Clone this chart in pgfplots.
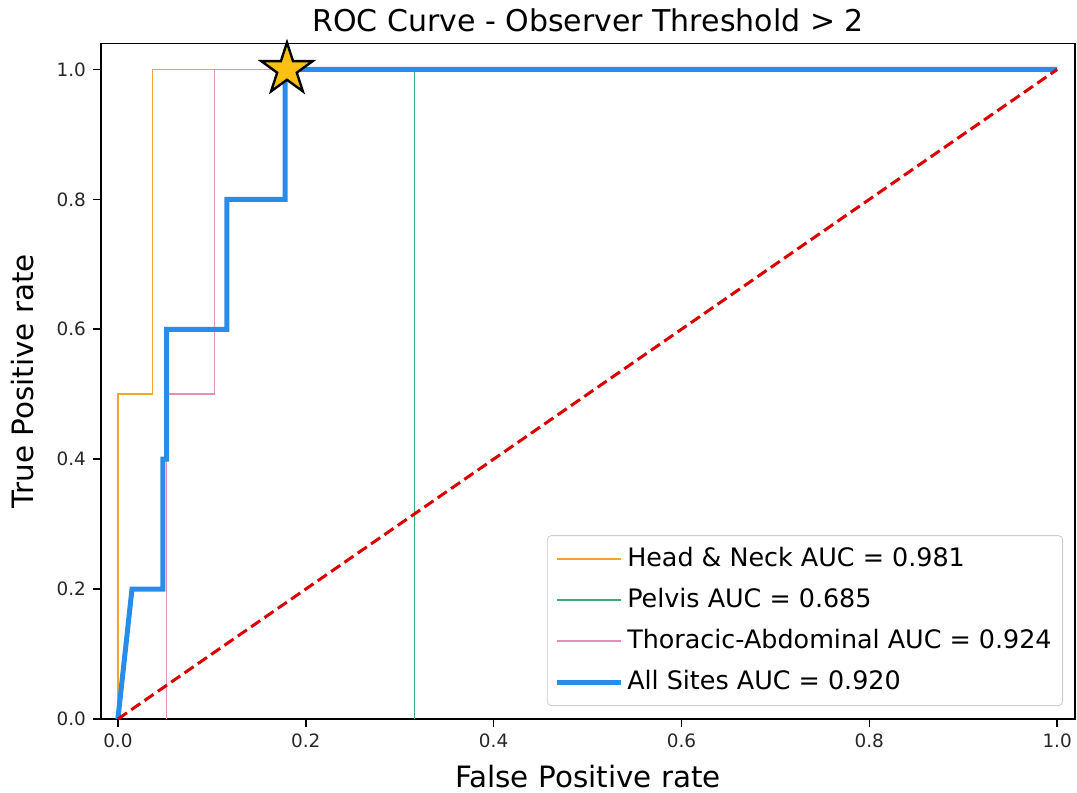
\documentclass[border=0pt]{standalone}
\usepackage{fontspec}
\setmainfont{DejaVu Sans}
\usepackage{pgfplots}
\pgfplotsset{compat=1.18}
\pgfplotsset{every axis title shift=0pt}
\definecolor{hnorange}{RGB}{240,165,45}
\definecolor{pgreen}{RGB}{60,170,120}
\definecolor{tpink}{RGB}{232,140,188}
\definecolor{allblue}{RGB}{40,140,235}
\definecolor{stargold}{RGB}{252,192,20}
\pgfdeclareplotmark{fivestar}{%
  \pgfpathmoveto{\pgfqpointpolar{90}{\pgfplotmarksize}}%
  \pgfpathlineto{\pgfqpointpolar{126}{0.382\pgfplotmarksize}}%
  \pgfpathlineto{\pgfqpointpolar{162}{\pgfplotmarksize}}%
  \pgfpathlineto{\pgfqpointpolar{198}{0.382\pgfplotmarksize}}%
  \pgfpathlineto{\pgfqpointpolar{234}{\pgfplotmarksize}}%
  \pgfpathlineto{\pgfqpointpolar{270}{0.382\pgfplotmarksize}}%
  \pgfpathlineto{\pgfqpointpolar{306}{\pgfplotmarksize}}%
  \pgfpathlineto{\pgfqpointpolar{342}{0.382\pgfplotmarksize}}%
  \pgfpathlineto{\pgfqpointpolar{18}{\pgfplotmarksize}}%
  \pgfpathlineto{\pgfqpointpolar{54}{0.382\pgfplotmarksize}}%
  \pgfpathclose
  \pgfusepathqfillstroke}
\begin{document}
\begin{tikzpicture}
\begin{axis}[
  scale only axis,
  width=487pt, height=337.75pt,
  xmin=-0.018, xmax=1.019, ymin=0, ymax=1.04,
  xtick={0,0.2,0.4,0.6,0.8,1.0},
  ytick={0,0.2,0.4,0.6,0.8,1.0},
  xticklabels={0.0,0.2,0.4,0.6,0.8,1.0},
  yticklabels={0.0,0.2,0.4,0.6,0.8,1.0},
  tick align=outside,
  major tick length=4pt,
  tick style={black, line width=0.8pt},
  xtick pos=bottom, ytick pos=left,
  axis line style={black, line width=0.9pt},
  ticklabel style={font=\fontsize{9.2pt}{11pt}\selectfont, text=black!85},
  /pgf/number format/assume math mode=true,
  title={ROC Curve - Observer Threshold > 2},
  title style={font=\fontsize{15pt}{18pt}\selectfont, at={(axis description cs:0.5,1.0185)}, anchor=base, yshift=0pt, inner sep=0pt},
  xlabel={False Positive rate},
  ylabel={True Positive rate},
  xlabel style={font=\fontsize{14.7pt}{17pt}\selectfont, at={(axis description cs:0.5,-0.1007)}, anchor=base, inner sep=0pt},
  ylabel style={font=\fontsize{14.7pt}{17pt}\selectfont, at={(axis description cs:-0.0688,0.5)}, anchor=base, inner sep=0pt},
  legend cell align=left,
  legend style={at={(axis description cs:0.9877,0.0192)}, anchor=south east,
    font=\fontsize{12.7pt}{15pt}\selectfont,
    draw=black!20, rounded corners=2pt, fill=white, fill opacity=0.85, text opacity=1,
    inner xsep=3.5pt, inner ysep=1.5pt, row sep=0pt,
    nodes={text height=10pt, text depth=3pt, inner ysep=3.75pt}},
  legend image code/.code={\draw[#1] (0pt,0pt) -- (27.5pt,0pt); \path (0pt,0pt) -- (32pt,0pt);},
]
\addplot[hnorange, line width=0.75pt] coordinates {
 (0,0) (0,0.5) (0.037,0.5) (0.037,1.0) (1,1)};
\addlegendentry{Head \& Neck AUC = 0.981}
\addplot[pgreen, line width=0.75pt] coordinates {
 (0.316,0) (0.316,1.0) (1,1)};
\addlegendentry{Pelvis AUC = 0.685}
\addplot[tpink, line width=0.75pt] coordinates {
 (0.052,0) (0.052,0.5) (0.103,0.5) (0.103,1.0) (1,1)};
\addlegendentry{Thoracic-Abdominal AUC = 0.924}
\addplot[allblue, line width=2.5pt] coordinates {
 (0,0) (0.015,0.2) (0.048,0.2) (0.048,0.4) (0.052,0.4) (0.052,0.6)
 (0.116,0.6) (0.116,0.8) (0.178,0.8) (0.178,1.0) (1,1)};
\addlegendentry{All Sites AUC = 0.920}
\addplot[red!85!black, line width=1.5pt, dash pattern=on 5.5pt off 2.6pt, forget plot] coordinates {(0,0) (1,1)};
\addplot[only marks, mark=fivestar, mark size=13.5pt, mark options={fill=stargold, draw=black, line width=1.2pt, line join=miter}, forget plot] coordinates {(0.18,1.0)};
\end{axis}
\pgfresetboundingbox
\useasboundingbox (-50.5pt,-37pt) rectangle (488pt,359.5pt);
\end{tikzpicture}
\end{document}
